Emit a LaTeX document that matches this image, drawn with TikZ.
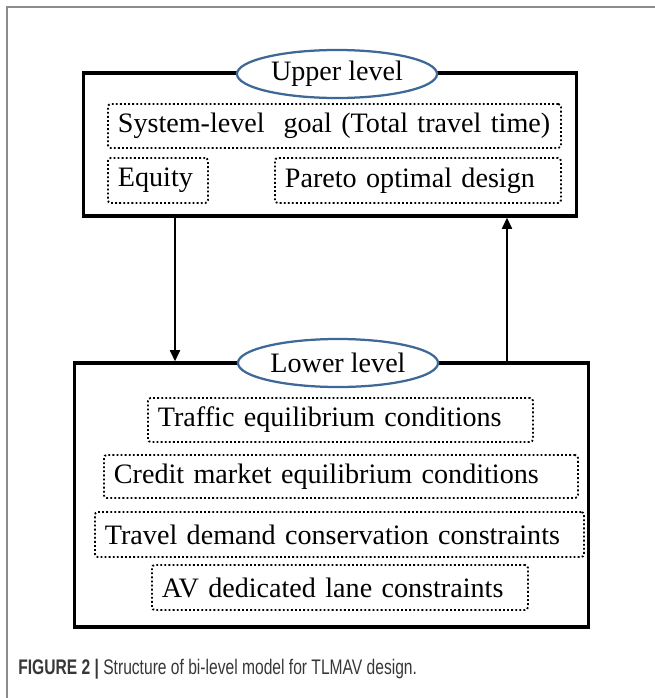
\documentclass[tikz,border=0pt]{standalone}
\usepackage{fontspec}
\setmainfont{Liberation Serif}
\newfontfamily\capfont[FakeStretch=0.74]{Liberation Sans}
\usepackage{xcolor}
\usetikzlibrary{calc, positioning, shapes.geometric, arrows.meta}

\definecolor{ovalblue}{RGB}{62,104,150}
\definecolor{framegray}{RGB}{140,140,140}
\definecolor{capgray}{RGB}{55,55,55}

\begin{document}
\begin{tikzpicture}[x=0.025cm, y=-0.025cm,
    levelbox/.style={draw, line width=2.2pt, fill=white},
    oval/.style={ellipse, draw=ovalblue, line width=1.6pt, fill=white,
        minimum width=5cm, minimum height=1.2cm, inner sep=0pt,
        font=\fontsize{20}{24}\selectfont},
    cond/.style={draw, line width=1.3pt, dash pattern=on 1.3pt off 1.6pt,
        rounded corners=2pt, inner xsep=0.25cm, inner ysep=0pt, align=left,
        font=\fontsize{20}{24}\selectfont},
    link/.style={line width=1.6pt, -{Triangle[length=8pt, width=7pt]}},
    caption/.style={font=\capfont\fontsize{15}{18}\selectfont, text=capgray, inner sep=0pt}]

    \useasboundingbox (0,0) rectangle (655,698);

    \NewDocumentCommand{\condbox}{ m m m m m m }{
        \pgfmathsetmacro{\tw}{(#3-#2)*0.025-0.5}
        \pgfmathsetmacro{\bh}{(#5-#4)*0.025}
        \node[cond, text width=\tw cm, minimum height=\bh cm, anchor=west]
            (#1) at (#2,{(#4+#5)/2}) {#6};
    }

    %% Frame
    \draw[framegray, line width=1.4pt] (7,698) -- (7,7) -- (655,7);

    %% Levels
    \node[levelbox, minimum width=12.3cm, minimum height=3.575cm] (upper) at (330,144.5) {};
    \node[levelbox, minimum width=12.825cm, minimum height=6.6cm] (lower) at (331.5,495) {};
    \node[oval] (uplabel) at (337,74) {Upper level};
    \node[oval] (lowlabel) at (338,363) {Lower level};

    % Conditions
    \foreach \nm/\lx/\rx/\ty/\by/\txt in {
        goal/107/560/104/148/System-level\ \ goal (Total travel time),
        equity/107/207/158/203/Equity,
        pareto/274/560/158/203/Pareto optimal design,
        traffic/147/532/398/442/Traffic equilibrium conditions,
        credit/103/577/455/498/Credit market equilibrium conditions,
        demand/94/583/512/557/Travel demand conservation constraints,
        avlane/151/527/565/610/AV dedicated lane constraints}
    {\condbox{\nm}{\lx}{\rx}{\ty}{\by}{\txt}}

    % Links
    \coordinate (down) at (175,0);
    \coordinate (up) at (507,0);
    \draw[link] (upper.south -| down) -- (lower.north -| down);
    \draw[link] (lower.north -| up) -- (upper.south -| up);

    %% Caption
    \node[caption, anchor=base west] (cap) at (18,674)
        {\textbf{FIGURE 2 |} Structure of bi-level model for TLMAV design.};

\end{tikzpicture}
\end{document}
